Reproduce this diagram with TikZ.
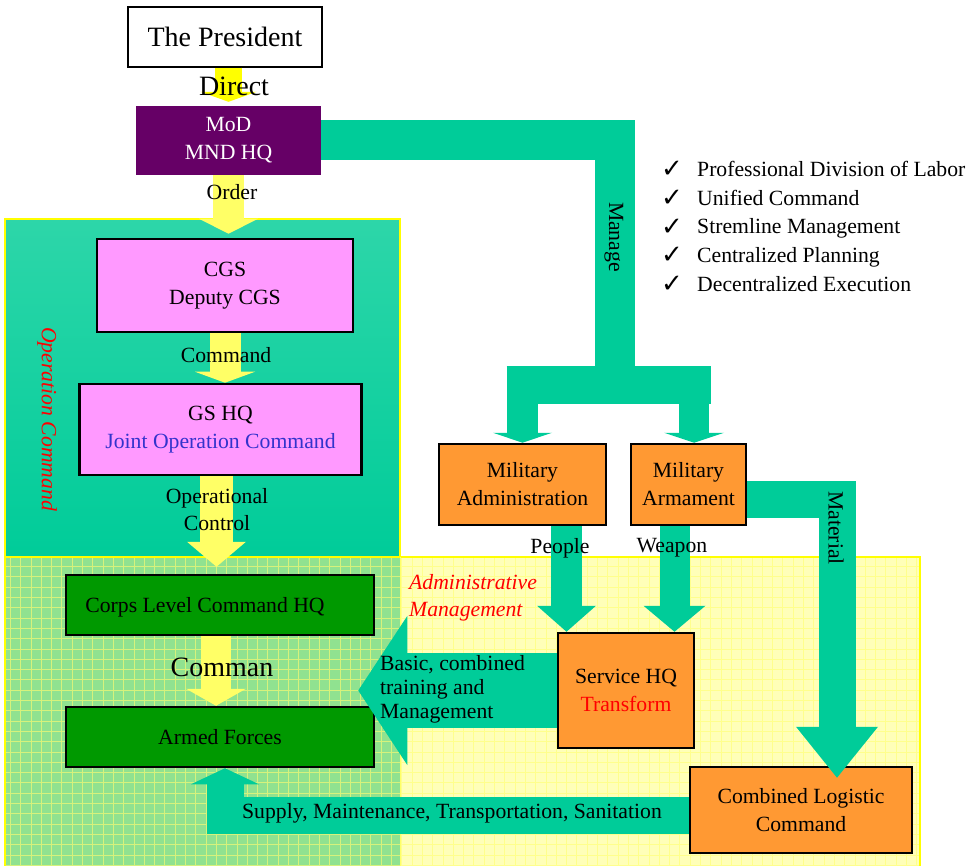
\documentclass[tikz,border=0pt]{standalone}
\usepackage{fontspec}
\setmainfont{Liberation Serif}
\newfontfamily\symfont{DejaVu Sans}
\usetikzlibrary{arrows.meta}

\definecolor{modpurple}{HTML}{660066}
\definecolor{cgspink}{HTML}{FF99FF}
\definecolor{jointblue}{HTML}{3333CC}
\definecolor{corpsgreen}{HTML}{009900}
\definecolor{unitorange}{HTML}{FF9933}
\definecolor{flowteal}{HTML}{00CC99}
\definecolor{optop}{HTML}{2DD6A9}
\definecolor{arrowyellow}{HTML}{FFFF66}
\definecolor{directyellow}{HTML}{FFFF00}
\definecolor{panelyellow}{HTML}{FFFF00}
\definecolor{fieldgreen}{HTML}{90E290}
\definecolor{gridgreen}{HTML}{D6F27C}
\definecolor{fieldyellow}{HTML}{FFFFB8}
\definecolor{gridyellow}{HTML}{FFFF8C}

\begin{document}
\begin{tikzpicture}[x=1pt, y=-1pt, font=\fontsize{21.7}{28}\selectfont,
    box/.style={draw=black, line width=2.5pt, align=center, inner sep=0pt},
    lbl/.style={align=center, inner sep=0pt},
    yarrow/.style n args={3}{draw=arrowyellow, line width=#1, -{Triangle[width=#2, length=#3, line width=0pt]}},
    tarrow/.style n args={3}{draw=flowteal, line width=#1, line join=miter, -{Triangle[width=#2, length=#3, line width=0pt]}},
    tbar/.style={draw=flowteal, line width=#1, line join=miter}]
    \useasboundingbox (0,0) rectangle (977,866);

    % panels
    \shade[top color=optop, bottom color=flowteal] (5,219) rectangle (400,557);
    \fill[fieldgreen] (5,557) rectangle (400,866);
    \draw[gridgreen, line width=0.8pt, step=10.3pt] (5,557) grid (400,866);
    \fill[fieldyellow] (400,557) rectangle (920,866);
    \draw[gridyellow, line width=0.7pt, step=10.3pt] (400,557) grid (920,866);
    \draw[panelyellow, line width=2.5pt] (5,219) rectangle (400,557);
    \draw[panelyellow, line width=2.5pt] (5,870) -- (5,557) -- (920,557) -- (920,870);
    \draw[panelyellow!60, line width=1pt] (400,557) -- (400,866);

    % boxes
    \node[box, line width=1.5pt, fill=white, minimum width=194pt, minimum height=60pt,
      font=\fontsize{28}{32}\selectfont] (pres) at (225,37) {The President};
    \node[fill=modpurple, text=white, align=center, inner sep=0pt,
      minimum width=185pt, minimum height=69pt] (mod) at (228.5,140.5) {MoD\\MND HQ};
    \node[box, fill=cgspink, minimum width=256pt, minimum height=93pt] (cgs) at (225,285.5) {CGS\\Deputy CGS};
    \node[box, fill=cgspink, minimum width=282pt, minimum height=91pt] (gshq) at (220.5,429.5)
      {GS HQ\\\textcolor{jointblue}{Joint Operation Command}};
    \node[box, fill=corpsgreen, minimum width=308pt, minimum height=60pt] (corps) at (220,605) {};
    \node[lbl] (corpstxt) at (205,607) {Corps Level Command HQ};
    \node[box, fill=corpsgreen, minimum width=308pt, minimum height=60pt] (armed) at (220,737) {Armed Forces};
    \node[box, fill=unitorange, minimum width=167pt, minimum height=81pt] (admin) at (522.5,484.5) {Military\\Administration};
    \node[box, fill=unitorange, minimum width=115pt, minimum height=81pt] (arm) at (688.5,484.5) {Military\\Armament};
    \node[box, fill=unitorange, minimum width=136pt, minimum height=115pt] (shq) at (626,690.5)
      {Service HQ\\\textcolor{red}{Transform}};
    \node[box, fill=unitorange, minimum width=222pt, minimum height=86pt] (comb) at (801,810) {Combined Logistic\\Command};

    % command chain
    \draw[yarrow={27pt}{56pt}{10pt}, draw=directyellow] (pres.south -| mod.north) -- ([yshift=4pt]mod.north);
    \draw[yarrow={31pt}{59pt}{15pt}] (mod.south) -- ([yshift=4pt]mod.south |- cgs.north);
    \draw[yarrow={31pt}{60pt}{11pt}] (cgs.south) -- (cgs.south |- gshq.north);
    \draw[yarrow={33pt}{59pt}{25pt}] ([xshift=-4pt]gshq.south) -- ([xshift=-4pt, yshift=7pt]gshq.south |- corps.north);
    \draw[yarrow={30pt}{60pt}{17pt}] ([xshift=-4pt]corps.south) -- ([xshift=-4pt]corps.south |- armed.north);

    % management flows
    \coordinate (fork) at (615,385);
    \draw[tbar=40pt] (mod.east) -| (fork);
    \draw[tbar=38pt] ([xshift=-16pt]admin.north |- fork) -- ([xshift=22.5pt]arm.north |- fork);
    \draw[tarrow={31pt}{59pt}{10pt}] (admin.north |- fork) -- (admin.north);
    \draw[tarrow={30pt}{60pt}{10pt}] ([xshift=5.5pt]arm.north |- fork) -- ([xshift=5.5pt]arm.north);
    \draw[tarrow={31pt}{59pt}{26pt}] ([xshift=44pt]admin.south) -- ([xshift=44pt]admin.south |- shq.north);
    \draw[tarrow={30pt}{62pt}{26pt}] ([xshift=-14pt]arm.south) -- ([xshift=-14pt]arm.south |- shq.north);
    \draw[tarrow={37pt}{82pt}{51pt}] ([yshift=-14.5pt]arm.east) -| ([xshift=36pt, yshift=-12pt]comb.north);
    \draw[tarrow={75pt}{149pt}{49pt}] (shq.west) -- ([xshift=-17pt]armed.east |- shq.west);
    \draw[tarrow={37pt}{68pt}{16pt}] ([yshift=-5pt]comb.west) -| ([xshift=5pt]armed.south);

    % labels
    \node[lbl, font=\fontsize{28}{32}\selectfont] (direct) at (234,86) {Direct};
    \node[lbl] (order) at (232,192) {Order};
    \node[lbl] (cmd) at (226,355) {Command};
    \node[lbl, font=\fontsize{21.7}{27}\selectfont] (opctl) at (217,510) {Operational\\Control};
    \node[lbl, font=\fontsize{28}{32}\selectfont] (comman) at (222,667) {Comman};
    \node[lbl, rotate=-90, text=red, font=\fontsize{21.7}{28}\selectfont\itshape] (opcmd) at (47,419) {Operation Command};
    \node[lbl, anchor=west, align=left, text=red, font=\fontsize{21.7}{27}\selectfont\itshape] (admmgmt)
      at (409,598) {Administrative\\Management};
    \node[lbl, anchor=west, align=left, font=\fontsize{21.7}{24}\selectfont] (basic) at (380,689)
      {Basic, combined\\training and\\Management};
    \node[lbl] (supply) at (452,813) {Supply, Maintenance, Transportation, Sanitation};
    \node[lbl] (people) at (560,548) {People};
    \node[lbl] (weapon) at (672,548) {Weapon};
    \node[lbl, rotate=-90] (manage) at (614,237) {Manage};
    \node[lbl, rotate=-90] (material) at (836,528) {Material};

    % principles
    \foreach \i/\txt in {0/Professional Division of Labor, 1/Unified Command, 2/Stremline Management,
        3/Centralized Planning, 4/Decentralized Execution}{
      \pgfmathsetmacro{\yy}{176.5+28.7*\i}
      \node[lbl, font=\symfont\fontsize{26}{28}\selectfont] (chk\i) at (672,\yy-7) {✓};
      \node[lbl, anchor=base west] (item\i) at (697,\yy) {\txt};
    }
\end{tikzpicture}
\end{document}
